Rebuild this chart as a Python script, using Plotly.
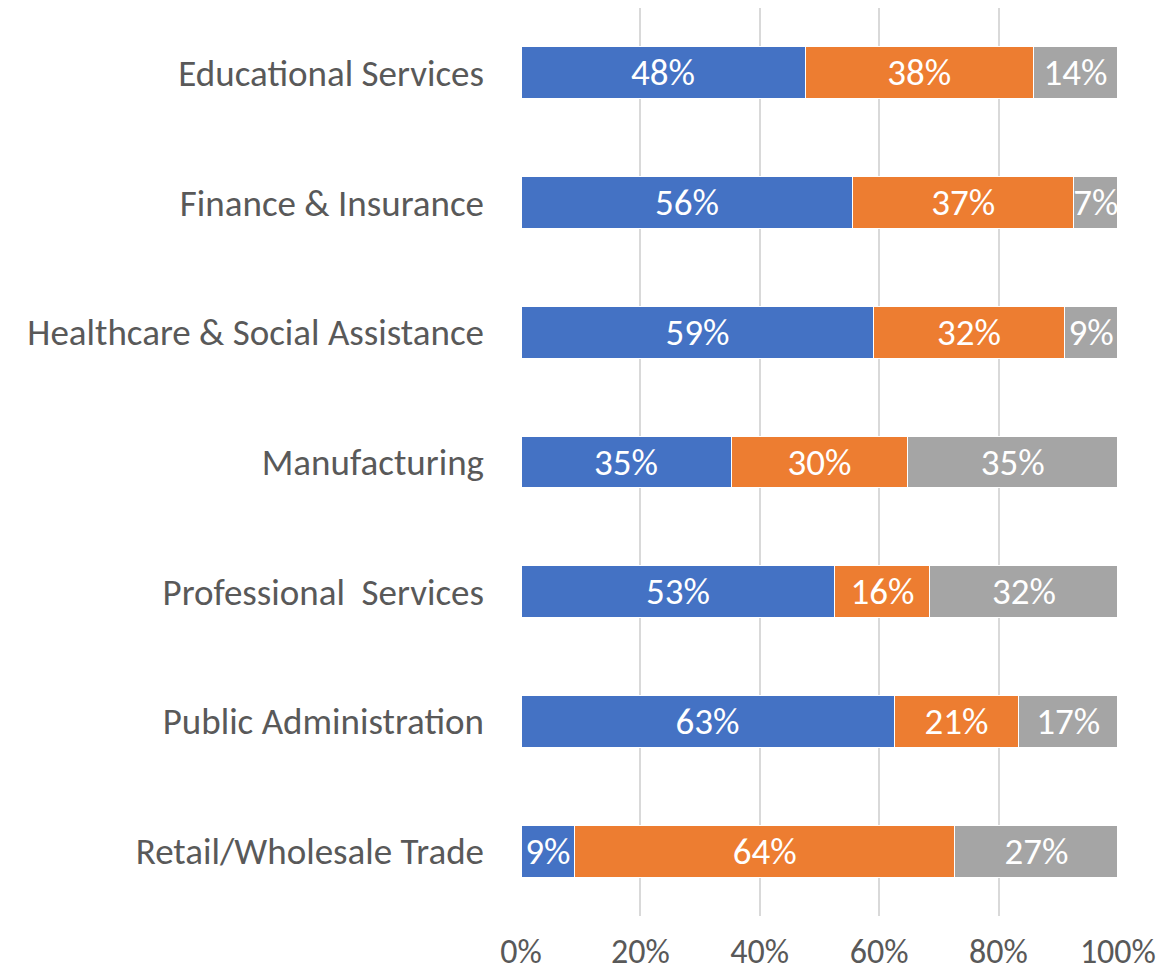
import plotly.graph_objects as go

categories = ["Educational Services", "Finance & Insurance", "Healthcare & Social Assistance",
              "Manufacturing", "Professional  Services", "Public Administration",
              "Retail/Wholesale Trade"]
series_a = [47.6, 55.6, 59.1, 35.2, 52.6, 62.5, 9.0]
series_b = [38.2, 37.0, 31.9, 29.6, 15.9, 20.9, 63.7]
series_c = [14.2, 7.4, 9.0, 35.2, 31.5, 16.6, 27.3]
series_names = ["Series 1", "Series 2", "Series 3"]
colors = ["#4472C4", "#ED7D31", "#A5A5A5"]
tick_vals = [0, 20, 40, 60, 80, 100]
tick_text = ["0%", "20%", "40%", "60%", "80%", "100%"]

FONT = "Calibri, Carlito, Lato, sans-serif"

fig = go.Figure()
for name, vals, col in zip(series_names, [series_a, series_b, series_c], colors):
    fig.add_trace(go.Bar(
        y=categories, x=vals, name=name, orientation="h",
        marker=dict(color=col, line=dict(color="white", width=1)),
        texttemplate="%{x:.0f}%", textposition="inside", insidetextanchor="middle",
        textangle=0,
        textfont=dict(color="white", size=37, family=FONT),
        cliponaxis=False, hoverinfo="skip",
    ))

fig.update_layout(
    barmode="stack", bargap=0.6, showlegend=False,
    width=1160, height=966,
    margin=dict(l=513, r=50, t=0, b=58, autoexpand=False),
    plot_bgcolor="white", paper_bgcolor="white",
    font=dict(family=FONT, color="#595959", size=37),
    uniformtext=dict(minsize=37, mode="show"),
    xaxis=dict(range=[0, 100.02], tickvals=tick_vals, ticktext=tick_text,
               showgrid=True, gridcolor="#D9D9D9", gridwidth=1.5, zeroline=False,
               showline=False, ticks="", ticklabelstandoff=12, automargin=False,
               tickfont=dict(size=34, color="#595959", family=FONT)),
    yaxis=dict(autorange="reversed", showgrid=False, showline=False, ticks="",
               ticklabelstandoff=36, automargin=False,
               tickfont=dict(size=37, color="#595959", family=FONT)),
)

fig.write_html("out.html")
